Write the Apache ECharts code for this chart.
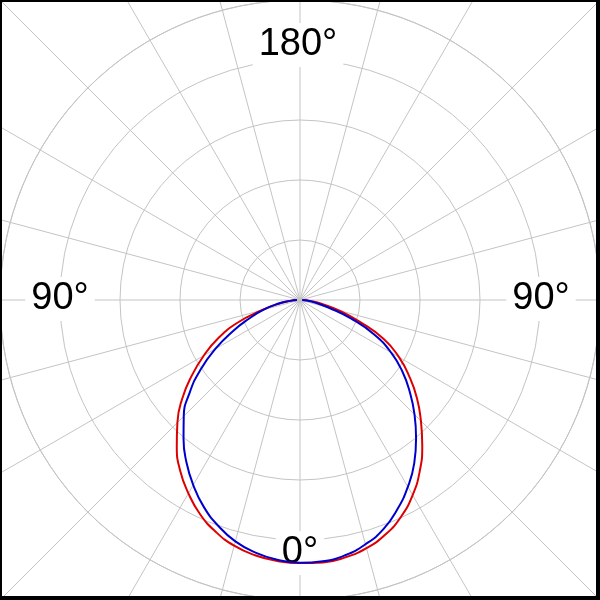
<!DOCTYPE html>
<html>
<head>
<meta charset="utf-8">
<script src="https://cdn.jsdelivr.net/npm/echarts@6/dist/echarts.min.js"></script>
<style>
html,body{margin:0;padding:0;background:#fff;}
#chart{width:600px;height:600px;}
</style>
</head>
<body>
<div id="chart"></div>
<script>
// angle in degrees measured from the bottom (0°); negative = left side, positive = right side
var angles = [-90,-85,-80,-75,-70,-65,-60,-55,-50,-45,-40,-35,-30,-25,-20,-15,-10,-5,0,
              5,10,15,20,25,30,35,40,45,50,55,60,65,70,75,80,85,90];
var redValues = [1.0,3.3,7.3,13.2,22.2,30.0,37.0,44.1,51.3,57.8,63.9,69.6,74.4,78.8,82.2,84.8,86.4,87.3,87.7,
                 87.8,87.1,85.6,83.2,79.7,75.1,69.6,63.4,57.0,50.9,44.5,38.1,30.9,21.1,13.4,7.5,3.3,1.0];
var blueValues = [1.0,3.3,7.7,12.7,18.0,24.8,32.6,40.5,48.0,54.8,60.4,66.0,71.2,76.0,80.0,83.3,85.5,86.9,87.6,
                  87.4,86.4,84.3,81.3,76.9,71.9,66.4,60.2,54.0,47.8,41.7,35.1,27.4,18.2,10.0,5.3,2.3,0.7];
var tickLabels = {top:'180°', left:'90°', right:'90°', bottom:'0°'};

function toPolar(vals){
  return vals.map(function(v,i){ return [v, (angles[i] + 360) % 360]; });
}

var chart = echarts.init(document.getElementById('chart'), null, {renderer:'canvas'});
var grey = '#c4c4c4';
var labelStyle = function(t){
  return {text:t, fontSize:38, fontFamily:'"Liberation Sans", Arial, sans-serif', fill:'#000',
          align:'center', verticalAlign:'middle', backgroundColor:'#fff', padding:[3,6,3,6]};
};
chart.setOption({
  animation:false,
  backgroundColor:'#fff',
  polar:[
    {center:[300,300], radius:300},
    {center:[300,300], radius:430}
  ],
  angleAxis:[
    {polarIndex:0, type:'value', min:0, max:360, startAngle:-90, clockwise:false, z:0,
     axisLine:{show:true, lineStyle:{color:grey, width:1}}, axisTick:{show:false}, axisLabel:{show:false},
     splitLine:{show:false}},
    {polarIndex:1, type:'value', min:0, max:360, interval:15, startAngle:-90, clockwise:false, z:0,
     axisLine:{show:false}, axisTick:{show:false}, axisLabel:{show:false},
     splitLine:{show:true, lineStyle:{color:grey, width:1}}}
  ],
  radiusAxis:[
    {polarIndex:0, type:'value', min:0, max:100, interval:20, z:0,
     axisLine:{show:false}, axisTick:{show:false}, axisLabel:{show:false},
     splitLine:{show:true, lineStyle:{color:grey, width:1}}},
    {polarIndex:1, type:'value', min:0, max:100, show:false, splitLine:{show:false}}
  ],
  graphic:[
    {type:'text', x:298, y:45, z:1, style:labelStyle(tickLabels.top)},
    {type:'text', x:60, y:299, z:1, style:labelStyle(tickLabels.left)},
    {type:'text', x:541, y:299, z:1, style:labelStyle(tickLabels.right)},
    {type:'text', x:300, y:553, z:1, style:labelStyle(tickLabels.bottom)},
    {type:'rect', z:10, shape:{x:0,y:0,width:2,height:600}, style:{fill:'#000'}},
    {type:'rect', z:10, shape:{x:0,y:0,width:600,height:2}, style:{fill:'#000'}},
    {type:'rect', z:10, shape:{x:596,y:0,width:4,height:600}, style:{fill:'#000'}},
    {type:'rect', z:10, shape:{x:0,y:596,width:600,height:4}, style:{fill:'#000'}}
  ],
  series:[
    {type:'line', coordinateSystem:'polar', polarIndex:0, data:toPolar(redValues), showSymbol:false,
     smooth:0.5, z:3, lineStyle:{color:'#dd0000', width:2}},
    {type:'line', coordinateSystem:'polar', polarIndex:0, data:toPolar(blueValues), showSymbol:false,
     smooth:0.5, z:4, lineStyle:{color:'#0000cc', width:2}}
  ]
});
</script>
</body>
</html>
